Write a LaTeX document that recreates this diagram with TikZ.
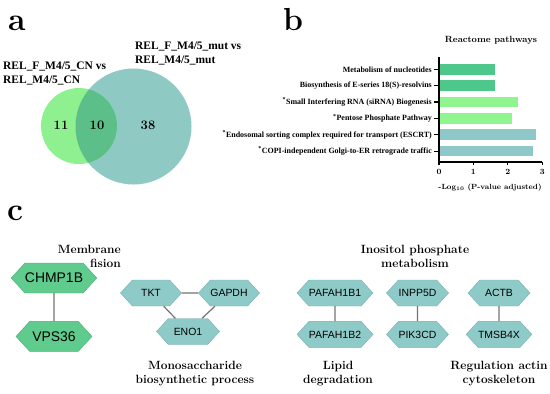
\documentclass[tikz,border=0pt]{standalone}
\usepackage{fontspec}
\newfontfamily\genefont{Liberation Sans}
\newfontfamily\labfont{Liberation Serif}
\usepackage{xcolor}
\usetikzlibrary{positioning,shapes.symbols}
\definecolor{vennlight}{HTML}{8FF08F}
\definecolor{vennteal}{HTML}{8FC9C4}
\definecolor{vennmid}{HTML}{5CBF8A}
\definecolor{bardark}{HTML}{4DC78A}
\definecolor{barlight}{HTML}{90F58F}
\definecolor{barteal}{HTML}{8EC8C8}
\definecolor{hexgreen}{HTML}{5FCB8C}
\definecolor{hexteal}{HTML}{8ECBC8}

\begin{document}
\begin{tikzpicture}[x=1bp, y=-1bp,
  letter/.style={font=\fontsize{32}{32}\bfseries\selectfont, anchor=base west, inner sep=0},
  vlabel/.style={font=\labfont\fontsize{11.5}{14.5}\bfseries\selectfont, align=left, anchor=west, inner sep=0},
  vnum/.style={font=\fontsize{13}{13}\bfseries\selectfont},
  blabel/.style={font=\labfont\fontsize{8}{8}\bfseries\selectfont, anchor=east, inner sep=0},
  ttl/.style={font=\fontsize{12}{14}\bfseries\selectfont, align=center, inner sep=0},
  hexbig/.style={signal, signal to=east and west, signal pointer angle=95, draw=hexgreen!85!black, fill=hexgreen, minimum width=76bp, minimum height=30bp, inner sep=0, font=\genefont\fontsize{14}{14}\selectfont},
  hex/.style={signal, signal to=east and west, signal pointer angle=95, draw=hexteal!85!black, fill=hexteal, minimum width=62bp, minimum height=26bp, inner sep=0, font=\genefont\fontsize{10.5}{10.5}\selectfont},
  link/.style={draw=black!55, line width=1.2bp}
]
\useasboundingbox (0,0) rectangle (550,393);

% panel a: venn
\node[letter] (la) at (8,30) {a};
\fill[vennteal] (133.5,126.5) circle[radius=58];
\fill[vennlight] (79,126) circle[radius=38];
\begin{scope}
  \clip (133.5,126.5) circle[radius=58];
  \fill[vennmid] (79,126) circle[radius=38];
\end{scope}
\node[vlabel] (labcn) at (3,73.5) {REL\_F\_M4/5\_CN vs\\REL\_M4/5\_CN};
\node[vlabel] (labmut) at (135,53.5) {REL\_F\_M4/5\_mut vs\\REL\_M4/5\_mut};
\node[vnum] (n11) at (61,125) {11};
\node[vnum] (n10) at (97,125) {10};
\node[vnum] (n38) at (148,125) {38};

% panel b: bars
\node[letter] (lb) at (283,30) {b};
\node[font=\fontsize{9}{9}\bfseries\selectfont] (rtitle) at (491,40) {Reactome pathways};
\foreach \v/\c/\t [count=\i from 0] in {1.62/bardark/Metabolism of nucleotides,
  1.62/bardark/Biosynthesis of E-series 18(S)-resolvins,
  2.31/barlight/\textsuperscript{*}Small Interfering RNA (siRNA) Biogenesis,
  2.12/barlight/\textsuperscript{*}Pentose Phosphate Pathway,
  2.83/barteal/\textsuperscript{*}Endosomal sorting complex required for transport (ESCRT),
  2.72/barteal/\textsuperscript{*}COPI-independent Golgi-to-ER retrograde traffic}{
  \pgfmathsetmacro\yc{69.3+16.35*\i}
  \fill[\c] (440,\yc-5.25) rectangle ({439+34.4*\v},\yc+5.25);
  \draw[line width=1.1bp] (434,\yc) -- (439,\yc);
  \node[blabel] (bar\i) at (432,\yc) {\t};
}
\draw[line width=1.1bp] (439,57) -- (439,162) -- (542.2,162);
\foreach \k in {0,1,2,3}{
  \draw[line width=1.1bp] (439+34.4*\k,162) -- (439+34.4*\k,165);
  \node[font=\fontsize{8}{8}\bfseries\selectfont] (tick\k) at (439+34.4*\k,172) {\k};
}
\node[font=\fontsize{7.5}{7.5}\bfseries\selectfont] (xlab) at (490,188) {-Log\textsubscript{10} (P-value adjusted)};

% panel c: networks
\node[letter] (lc) at (7,220) {c};
\node[hexbig] (chmp) at (54,278) {CHMP1B};
\node[hexbig, below=28bp of chmp] (vps) {VPS36};
\node[hex, minimum width=61bp] (tkt) at (151,293) {TKT};
\node[hex, minimum width=61bp] (gapdh) at (229,293) {GAPDH};
\node[hex, minimum width=63bp] (eno) at (188,331.5) {ENO1};
\node[hex, minimum width=64bp] (paf1) at (335,293) {PAFAH1B1};
\node[hex, minimum width=64bp, below=15bp of paf1] (paf2) {PAFAH1B2};
\node[hex] (inpp) at (417.5,293) {INPP5D};
\node[hex, below=15bp of inpp] (pik) {PIK3CD};
\node[hex] (actb) at (499,293) {ACTB};
\node[hex, below=15bp of actb] (tmsb) {TMSB4X};
\draw[link] (chmp) -- (vps);
\draw[link] (tkt) -- (gapdh);
\draw[link] (tkt) -- (eno);
\draw[link] (gapdh) -- (eno);
\draw[link] (paf1) -- (paf2);
\draw[link] (inpp) -- (pik);
\draw[link] (actb) -- (tmsb);

\node[ttl, align=right, anchor=east] (tfision) at (121,256.5) {Membrane\\fision};
\node[ttl] (tmono) at (195,373.5) {Monosaccharide\\biosynthetic process};
\node[ttl] (tino) at (415,256.5) {Inositol phosphate\\metabolism};
\node[ttl] (tlipid) at (338,373.5) {Lipid\\degradation};
\node[ttl] (tactin) at (499,373.5) {Regulation actin\\cytoskeleton};
\end{tikzpicture}
\end{document}
